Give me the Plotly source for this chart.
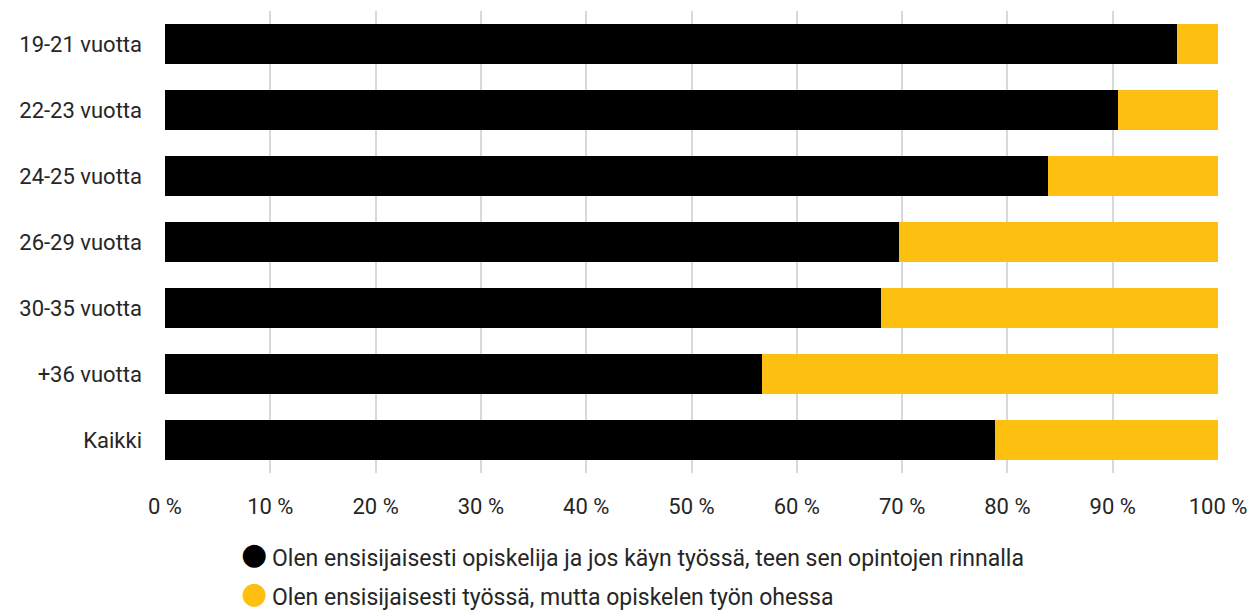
import plotly.graph_objects as go

# Ikäryhmät ylhäältä alas
categories = ['19-21 vuotta', '22-23 vuotta', '24-25 vuotta', '26-29 vuotta',
              '30-35 vuotta', '+36 vuotta', 'Kaikki']
opiskelija = [96.1, 90.5, 83.9, 69.7, 68.0, 56.7, 78.8]
tyossa = [3.9, 9.5, 16.1, 30.3, 32.0, 43.3, 21.2]
series_names = ['Olen ensisijaisesti opiskelija ja jos käyn työssä, teen sen opintojen rinnalla',
                'Olen ensisijaisesti työssä, mutta opiskelen työn ohessa']
colors = ['#000000', '#FDC010']
x_ticks = [0, 10, 20, 30, 40, 50, 60, 70, 80, 90, 100]
x_ticktext = [f'{v} %' for v in x_ticks]

font_family = 'Roboto, Inter, sans-serif'
text_color = '#262626'

fig = go.Figure()

for vals, name, col in zip([opiskelija, tyossa], series_names, colors):
    fig.add_trace(go.Bar(
        y=categories, x=vals, orientation='h', name=name,
        marker=dict(color=col, line=dict(width=0)),
        showlegend=False,
    ))

# selite annotaatioina (pyöreä merkki + teksti), ei työnnä marginaaleja
legend_y = [-0.184, -0.27]
for name, col, ly in zip(series_names, colors, legend_y):
    fig.add_annotation(
        xref='paper', yref='paper', x=0.0845, y=ly, yshift=5,
        xanchor='center', yanchor='middle', showarrow=False,
        text='●', font=dict(family='DejaVu Sans', size=30, color=col),
    )
    fig.add_annotation(
        xref='paper', yref='paper', x=0.0995, y=ly,
        xanchor='left', yanchor='middle', showarrow=False,
        text=name, font=dict(family=font_family, size=23, color=text_color),
    )

# sivun body-marginaali (8 px) huomioitu koossa ja marginaaleissa
fig.update_layout(
    barmode='stack',
    bargap=0.38,
    width=1250, height=604,
    margin=dict(l=157, r=40, t=3, b=139),
    plot_bgcolor='white', paper_bgcolor='white',
    font=dict(family=font_family, size=22, color=text_color),
    showlegend=False,
)

fig.update_xaxes(
    range=[0, 100], tickvals=x_ticks, ticktext=x_ticktext,
    showgrid=True, gridcolor='#d9d9d9', gridwidth=2,
    zeroline=False, showline=False,
    ticklabelstandoff=18,
    tickfont=dict(size=22, color=text_color),
)
fig.update_yaxes(
    categoryorder='array', categoryarray=categories, autorange='reversed',
    showgrid=False, zeroline=False, showline=False,
    ticklabelstandoff=22,
    tickfont=dict(size=22, color=text_color),
)

fig.write_html('out.html')
